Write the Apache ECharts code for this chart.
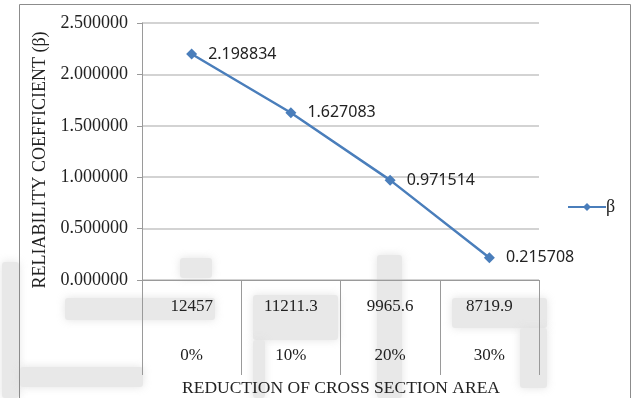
<!DOCTYPE html>
<html>
<head>
<meta charset="utf-8">
<script src="https://cdn.jsdelivr.net/npm/echarts@6/dist/echarts.min.js"></script>
<style>
  html, body { margin: 0; padding: 0; background: #fff; }
  #chart { width: 635px; height: 398px; }
</style>
</head>
<body>
<div id="chart"></div>
<script>
// Cross-section areas and their reduction levels (two-level category axis)
const areas = ['12457', '11211.3', '9965.6', '8719.9'];
const reductions = ['0%', '10%', '20%', '30%'];
// Reliability coefficient beta at each area
const beta = [2.198834, 1.627083, 0.971514, 0.215708];
const yTicks = { min: 0, max: 2.5, interval: 0.5 };

const serif = '"Liberation Serif", "Times New Roman", serif';
const sans = '"Noto Sans", "Liberation Sans", sans-serif';
const lineColor = '#4a7ebb';

// faint background logo blocks behind the plot
const logoBlocks = [
  [2, 262, 17, 136],
  [20, 367, 123, 20],
  [65, 298, 150, 22],
  [180, 258, 32, 20],
  [253, 295, 85, 45],
  [253, 340, 12, 58],
  [377, 255, 25, 143],
  [452, 298, 95, 30],
  [520, 328, 27, 60]
];

const chart = echarts.init(document.getElementById('chart'), null, { renderer: 'canvas' });

chart.setOption({
  animation: false,
  backgroundColor: '#fff',
  grid: { left: 142, right: 96, top: 23, bottom: 118, containLabel: false },
  graphic: [
    ...logoBlocks.map(([x, y, w, h]) => ({
      type: 'rect',
      z: -10,
      shape: { x, y, width: w, height: h, r: 3 },
      style: { fill: '#e8e8e8', shadowBlur: 8, shadowColor: 'rgba(220,220,220,0.8)' }
    })),
    {
      type: 'rect',
      z: -5,
      shape: { x: 19.5, y: 4.5, width: 611, height: 400 },
      style: { fill: 'none', stroke: '#8c8c8c', lineWidth: 1 }
    },
    {
      type: 'text',
      x: 40, y: 160,
      rotation: Math.PI / 2,
      style: {
        text: 'RELIABILITY COEFFICIENT (β)',
        font: '18px ' + serif,
        fill: '#222',
        textAlign: 'center',
        textVerticalAlign: 'middle'
      }
    },
    {
      type: 'text',
      x: 341, y: 388,
      style: {
        text: 'REDUCTION OF CROSS SECTION AREA',
        font: '17.5px ' + serif,
        fill: '#222',
        textAlign: 'center',
        textVerticalAlign: 'middle'
      }
    }
  ],
  legend: {
    data: ['β'],
    left: 562, top: 193,
    itemWidth: 38, itemHeight: 10,
    itemGap: 4,
    textStyle: { fontFamily: serif, fontSize: 18, color: '#222', padding: [0, 0, 0, -5] }
  },
  xAxis: [
    {
      type: 'category',
      data: areas,
      position: 'bottom',
      boundaryGap: true,
      axisLine: { lineStyle: { color: '#9a9a9a', width: 1 } },
      axisTick: { show: true, interval: 0, length: 95, lineStyle: { color: '#9a9a9a', width: 1 } },
      axisLabel: { interval: 0, margin: 18, fontFamily: serif, fontSize: 17, color: '#222' }
    },
    {
      type: 'category',
      data: reductions,
      position: 'bottom',
      offset: 49,
      boundaryGap: true,
      axisLine: { show: false },
      axisTick: { show: false },
      axisLabel: { interval: 0, margin: 18, fontFamily: serif, fontSize: 17, color: '#222' }
    }
  ],
  yAxis: {
    type: 'value',
    min: yTicks.min, max: yTicks.max, interval: yTicks.interval,
    axisLine: { show: true, lineStyle: { color: '#9a9a9a', width: 1 } },
    axisTick: { show: true, length: 5, lineStyle: { color: '#9a9a9a' } },
    axisLabel: {
      margin: 14, fontFamily: serif, fontSize: 18, color: '#222',
      formatter: v => v.toFixed(6)
    },
    splitLine: { lineStyle: { color: '#c4c4c4', width: 1.5 } }
  },
  series: [
    {
      name: 'β',
      type: 'line',
      xAxisIndex: 0,
      data: beta,
      symbol: 'diamond',
      symbolSize: 11,
      itemStyle: { color: lineColor },
      lineStyle: { color: lineColor, width: 2.5 },
      label: {
        show: true,
        position: 'right',
        distance: 11,
        fontFamily: sans,
        fontSize: 16,
        color: '#222',
        formatter: p => p.value.toFixed(6)
      }
    }
  ]
});
</script>
</body>
</html>
